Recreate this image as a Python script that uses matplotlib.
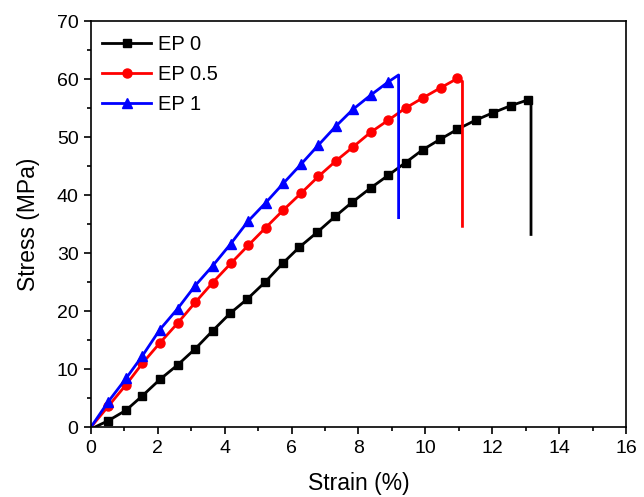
import matplotlib
matplotlib.use("Agg")
import matplotlib.pyplot as plt
from matplotlib.ticker import MultipleLocator

plt.rcParams['font.family'] = ['Liberation Sans', 'DejaVu Sans']

# stress-strain data (strain %, stress MPa)
strain_ep0 = [0.12, 0.52, 1.05, 1.54, 2.06, 2.59, 3.12, 3.64, 4.16, 4.68, 5.21, 5.73, 6.23,
              6.77, 7.30, 7.82, 8.36, 8.89, 9.41, 9.92, 10.44, 10.95, 11.50, 12.03, 12.55,
              13.07, 13.16, 13.16]
stress_ep0 = [0.0, 1.1, 2.9, 5.4, 8.2, 10.7, 13.5, 16.6, 19.6, 22.1, 25.0, 28.2, 31.0,
              33.6, 36.3, 38.8, 41.2, 43.4, 45.6, 47.8, 49.6, 51.3, 52.9, 54.2, 55.4,
              56.4, 56.4, 33.2]

strain_ep05 = [0.0, 0.52, 1.05, 1.54, 2.06, 2.59, 3.12, 3.64, 4.18, 4.70, 5.23, 5.75, 6.28,
               6.80, 7.33, 7.84, 8.36, 8.89, 9.41, 9.94, 10.46, 10.96, 11.11, 11.11]
stress_ep05 = [0.0, 3.6, 7.3, 11.0, 14.5, 17.9, 21.5, 24.9, 28.2, 31.3, 34.4, 37.4, 40.3,
               43.2, 45.9, 48.3, 50.8, 52.9, 55.0, 56.8, 58.5, 60.1, 59.6, 34.6]

strain_ep1 = [0.0, 0.52, 1.05, 1.54, 2.06, 2.59, 3.12, 3.64, 4.18, 4.70, 5.23, 5.75, 6.28,
              6.80, 7.33, 7.84, 8.36, 8.89, 9.20, 9.20]
stress_ep1 = [0.0, 4.4, 8.4, 12.3, 16.8, 20.4, 24.4, 27.8, 31.6, 35.5, 38.7, 42.0, 45.3,
              48.6, 51.9, 54.8, 57.2, 59.5, 60.7, 36.1]

fig = plt.figure(figsize=(6.44, 4.97), dpi=100)
ax = fig.add_axes([0.1413, 0.1408, 0.8307, 0.8169])

ax.plot(strain_ep0, stress_ep0, color='black', lw=2, marker='s', ms=6,
        markevery=list(range(1, len(strain_ep0) - 2)), label='EP 0')
ax.plot(strain_ep05, stress_ep05, color='red', lw=2, marker='o', ms=6.5,
        markevery=list(range(1, len(strain_ep05) - 2)), label='EP 0.5')
ax.plot(strain_ep1, stress_ep1, color='blue', lw=2, marker='^', ms=7,
        markevery=list(range(1, len(strain_ep1) - 2)), label='EP 1')

ax.set_xlim(0, 16)
ax.set_ylim(0, 70)
ax.xaxis.set_major_locator(MultipleLocator(2))
ax.xaxis.set_minor_locator(MultipleLocator(1))
ax.yaxis.set_major_locator(MultipleLocator(10))
ax.yaxis.set_minor_locator(MultipleLocator(5))
ax.tick_params(which='major', direction='out', length=5, width=1.2, labelsize=14, pad=4)
ax.tick_params(which='minor', direction='out', length=3, width=1.2)
for s in ax.spines.values():
    s.set_linewidth(1.2)

ax.set_xlabel('Strain (%)', fontsize=16.5, labelpad=11)
ax.set_ylabel('Stress (MPa)', fontsize=16.5, labelpad=12)

ax.legend(loc='upper left', bbox_to_anchor=(-0.005, 1.0), frameon=False, fontsize=14.5,
          handlelength=2.4, handletextpad=0.35, labelspacing=0.55, borderaxespad=0.3)

fig.savefig('out.png', dpi=100)
